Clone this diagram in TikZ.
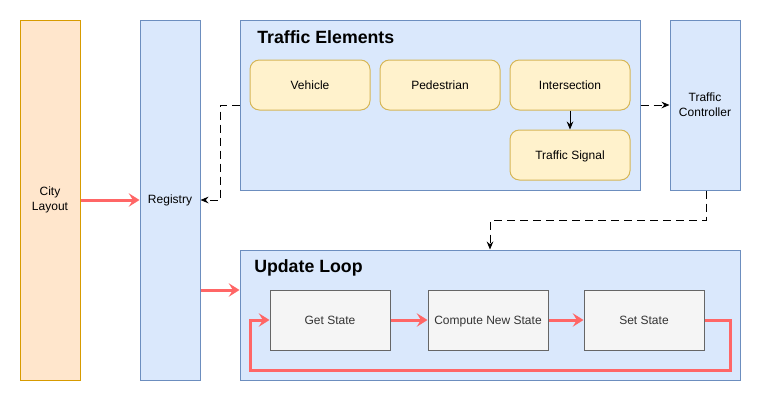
\documentclass[tikz,border=0pt]{standalone}
\usepackage{fontspec}
\setmainfont{Liberation Sans}
\usetikzlibrary{arrows.meta}
\definecolor{orfill}{HTML}{FFE6CC}
\definecolor{ordraw}{HTML}{D79B00}
\definecolor{blfill}{HTML}{DAE8FC}
\definecolor{bldraw}{HTML}{6C8EBF}
\definecolor{yefill}{HTML}{FFF2CC}
\definecolor{yedraw}{HTML}{D6B656}
\definecolor{grfill}{HTML}{F5F5F5}
\definecolor{grdraw}{HTML}{666666}
\definecolor{grtext}{HTML}{333333}
\definecolor{redline}{HTML}{FF6666}
\tikzset{
  base/.style={draw, line width=0.75pt, inner sep=0pt, align=center, font=\fontsize{9}{11}\selectfont},
  orbox/.style={base, fill=orfill, draw=ordraw},
  blbox/.style={base, fill=blfill, draw=bldraw},
  yebox/.style={base, fill=yefill, draw=yedraw, rounded corners=7pt, minimum width=90pt, minimum height=37.5pt, text height=6.5pt, text depth=0pt},
  grbox/.style={base, fill=grfill, draw=grdraw, text=grtext, minimum width=90pt, minimum height=45pt, text height=6.5pt, text depth=0pt},
  title/.style={anchor=west, font=\fontsize{13.3}{15}\selectfont\bfseries, inner sep=0pt},
  redarrow/.style={draw=redline, line width=2.25pt, -{Stealth[length=8pt, width=10pt, inset=3pt]}},
  dasharrow/.style={draw=black, line width=0.75pt, dash pattern=on 6pt off 3.75pt, -{Stealth[length=6pt, width=5pt, inset=2pt]}},
  solarrow/.style={draw=black, line width=0.75pt, -{Stealth[length=6pt, width=5pt, inset=2pt]}},
}
\begin{document}
\begin{tikzpicture}[x=0.75pt, y=-0.75pt]
\useasboundingbox (0,0) rectangle (761,401);
% containers
\node[orbox, minimum width=45pt, minimum height=270pt] (city) at (50,200) {City\\Layout};
\node[blbox, minimum width=45pt, minimum height=270pt] (reg) at (170,200) {Registry};
\node[blbox, minimum width=300pt, minimum height=127.5pt] (te) at (440,105) {};
\node[title] (tetitle) at (257,37) {Traffic Elements};
\node[blbox, minimum width=52.5pt, minimum height=127.5pt] (tc) at (705,105) {Traffic\\Controller};
\node[blbox, minimum width=375pt, minimum height=97.5pt] (ul) at (490,315) {};
\node[title] (ultitle) at (254,268) {Update Loop};
% inner elements
\node[yebox] (veh) at (310,85) {Vehicle};
\node[yebox] (ped) at (440,85) {Pedestrian};
\node[yebox] (inter) at (570,85) {Intersection};
\node[yebox] (sig) at (570,155) {Traffic Signal};
\node[grbox] (get) at (330,320) {Get State};
\node[grbox] (comp) at (488,320) {Compute New State};
\node[grbox] (set) at (644,320) {Set State};
% connectors
\draw[redarrow] (city.east |- 0,200) -- (reg.west |- 0,200);
\draw[redarrow] (reg.east |- 0,290) -- (ul.west |- 0,290);
\draw[solarrow] (inter) -- (sig);
\coordinate (d1) at (220,105);
\coordinate (d2) at (220,200);
\draw[dasharrow] (te.west |- 0,105) -- (d1) -- (d2) -- (reg.east |- d2);
\draw[dasharrow] (te.east |- 0,105) -- (tc.west |- 0,105);
\coordinate (c1) at (706,220);
\coordinate (c2) at (490,220);
\draw[dasharrow] (tc.south -| c1) -- (c1) -- (c2) -- (ul.north -| c2);
\draw[redarrow] (get) -- (comp);
\draw[redarrow] (comp) -- (set);
\coordinate (l1) at (730,320);
\coordinate (l2) at (730,370);
\coordinate (l3) at (250,370);
\coordinate (l4) at (250,320);
\draw[redarrow] (set.east) -- (l1) -- (l2) -- (l3) -- (l4) -- (get.west);
\end{tikzpicture}
\end{document}
